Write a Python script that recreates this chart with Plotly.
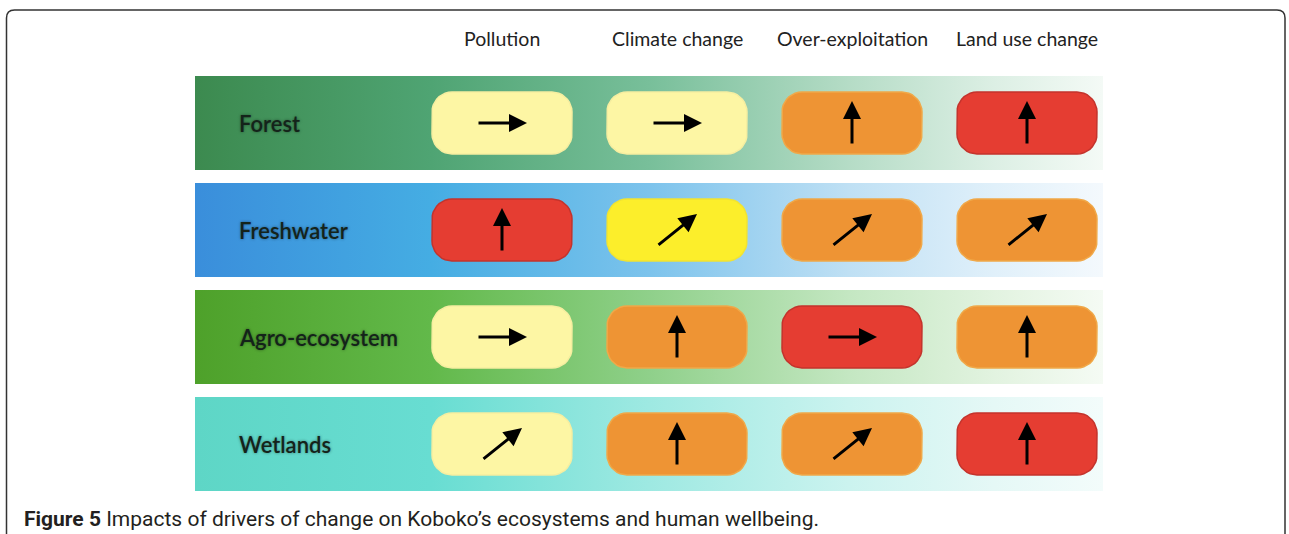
import numpy as np
import plotly.graph_objects as go

# ---- data ----
drivers = ["Pollution", "Climate change", "Over-exploitation", "Land use change"]
ecosystems = ["Forest", "Freshwater", "Agro-ecosystem", "Wetlands"]

# impact level per ecosystem (rows) and driver (columns)
impact = [
    ["low", "low", "high", "very high"],
    ["very high", "moderate", "high", "high"],
    ["low", "high", "very high", "high"],
    ["low", "high", "high", "very high"],
]
# trend of the impact
trend = [
    ["steady", "steady", "rapid", "rapid"],
    ["rapid", "increasing", "increasing", "increasing"],
    ["steady", "rapid", "steady", "rapid"],
    ["increasing", "rapid", "increasing", "rapid"],
]

caption = "<b>Figure 5</b> Impacts of drivers of change on Koboko\u2019s ecosystems and human wellbeing."

# ---- styles ----
W, H = 1289, 534
PX_X, PX_Y = 175.0, 107.0       # pixels per column / row unit
X0_PX, Y0_PX = 502.0, 123.0     # pixel position of first column / row

box_fill = {"low": "#fdf6a4", "moderate": "#fcee2b", "high": "#ee9434", "very high": "#e53d32"}
box_line = {"low": "#f6eea0", "moderate": "#f2e430", "high": "#f0a848", "very high": "#c4332c"}

band_scales = {
    "Forest": ["#3c8a4f", "#4fa473", "#78bf9a", "#b5dcc6", "#dcefe4", "#f4faf6"],
    "Freshwater": ["#3a8edb", "#45ade3", "#7cc3ec", "#bfe0f4", "#e0f0fa", "#f4f9fd"],
    "Agro-ecosystem": ["#4ea12a", "#62b94a", "#8fd08a", "#c4e7c2", "#e2f3e0", "#f5fbf4"],
    "Wetlands": ["#5ed6c6", "#68ddd2", "#9ee9e2", "#cbf3ef", "#e5f8f6", "#f3fcfb"],
}
stops = [0, 0.26, 0.5, 0.72, 0.88, 1]


def px_to_x(p):
    return (p - X0_PX) / PX_X


def px_to_y(p):
    return (p - Y0_PX) / PX_Y


def rounded_rect(cx, cy, w, h, r_px):
    rx, ry = r_px / PX_X, r_px / PX_Y
    xs, ys = [], []
    corners = [
        (cx + w / 2 - rx, cy - h / 2 + ry, -90, 0),
        (cx + w / 2 - rx, cy + h / 2 - ry, 0, 90),
        (cx - w / 2 + rx, cy + h / 2 - ry, 90, 180),
        (cx - w / 2 + rx, cy - h / 2 + ry, 180, 270),
    ]
    for ccx, ccy, a0, a1 in corners:
        t = np.radians(np.linspace(a0, a1, 10))
        xs += list(ccx + rx * np.cos(t))
        ys += list(ccy + ry * np.sin(t))
    xs.append(xs[0])
    ys.append(ys[0])
    return xs, ys


fig = go.Figure()

# background bands
bx0, bx1 = px_to_x(195), px_to_x(1103)
half_band = 47 / PX_Y
for i, eco in enumerate(ecosystems):
    fig.add_trace(go.Scatter(
        x=[bx0, bx1, bx1, bx0, bx0],
        y=[i - half_band, i - half_band, i + half_band, i + half_band, i - half_band],
        mode="lines", line=dict(width=0), fill="toself",
        fillgradient=dict(type="horizontal",
                          colorscale=[[s, c] for s, c in zip(stops, band_scales[eco])]),
        hoverinfo="skip", showlegend=False,
    ))
    fig.add_annotation(x=px_to_x(237), y=i, text=eco, showarrow=False, xanchor="left",
                       font=dict(family="Lato", size=22, color="#14231a",
                                 weight=600, shadow="0px 0px 3px rgba(0,0,0,0.45)"))

# boxes
bw, bh = 140 / PX_X, 62 / PX_Y
for i, eco in enumerate(ecosystems):
    for j, drv in enumerate(drivers):
        xs, ys = rounded_rect(j, i, bw, bh, 20)
        lvl = impact[i][j]
        fig.add_trace(go.Scatter(
            x=xs, y=ys, mode="lines", fill="toself",
            fillcolor=box_fill[lvl], line=dict(color=box_line[lvl], width=1.5),
            hoverinfo="skip", showlegend=False,
        ))

# arrows
for i in range(len(ecosystems)):
    for j in range(len(drivers)):
        t = trend[i][j]
        if t == "steady":
            dx, dy = 25 / PX_X, 0
        elif t == "rapid":
            dx, dy = 0, 22 / PX_Y
        else:
            dx, dy = 20 / PX_X, 16 / PX_Y
        fig.add_annotation(x=j + dx, y=i - dy, ax=j - dx, ay=i + dy,
                           xref="x", yref="y", axref="x", ayref="y", text="",
                           showarrow=True, arrowhead=2, arrowsize=1.2,
                           arrowwidth=3, arrowcolor="#000000", standoff=0)

# column headers
for j, drv in enumerate(drivers):
    fig.add_annotation(x=j, y=px_to_y(38), text=drv, showarrow=False,
                       font=dict(family="Lato", size=19.5, color="#222222"))

# caption
fig.add_annotation(x=22 / W, y=1 - 519 / H, xref="paper", yref="paper", text=caption,
                   showarrow=False, xanchor="left", yanchor="middle",
                   font=dict(family="Roboto, sans-serif", size=21, color="#231f20"))

# frame
fx0, fx1, fy0, r = 6.5 / W, 1285 / W, 1 - 10 / H, 8
frame = (f"M {fx0},-0.05 L {fx0},{1 - (10 + r) / H} "
         f"Q {fx0},{fy0} {(6.5 + r) / W},{fy0} "
         f"L {(1285 - r) / W},{fy0} Q {fx1},{fy0} {fx1},{1 - (10 + r) / H} "
         f"L {fx1},-0.05")
fig.add_shape(type="path", path=frame, xref="paper", yref="paper",
              line=dict(color="#333333", width=1.5))

fig.update_layout(
    width=W, height=H, margin=dict(l=0, r=0, t=0, b=0),
    plot_bgcolor="white", paper_bgcolor="white",
    xaxis=dict(range=[px_to_x(0), px_to_x(W)], visible=False, fixedrange=True),
    yaxis=dict(range=[px_to_y(H), px_to_y(0)], visible=False, fixedrange=True),
)

fig.write_html("out.html", config={"displayModeBar": False},
               post_script="document.body.style.margin='0';")
